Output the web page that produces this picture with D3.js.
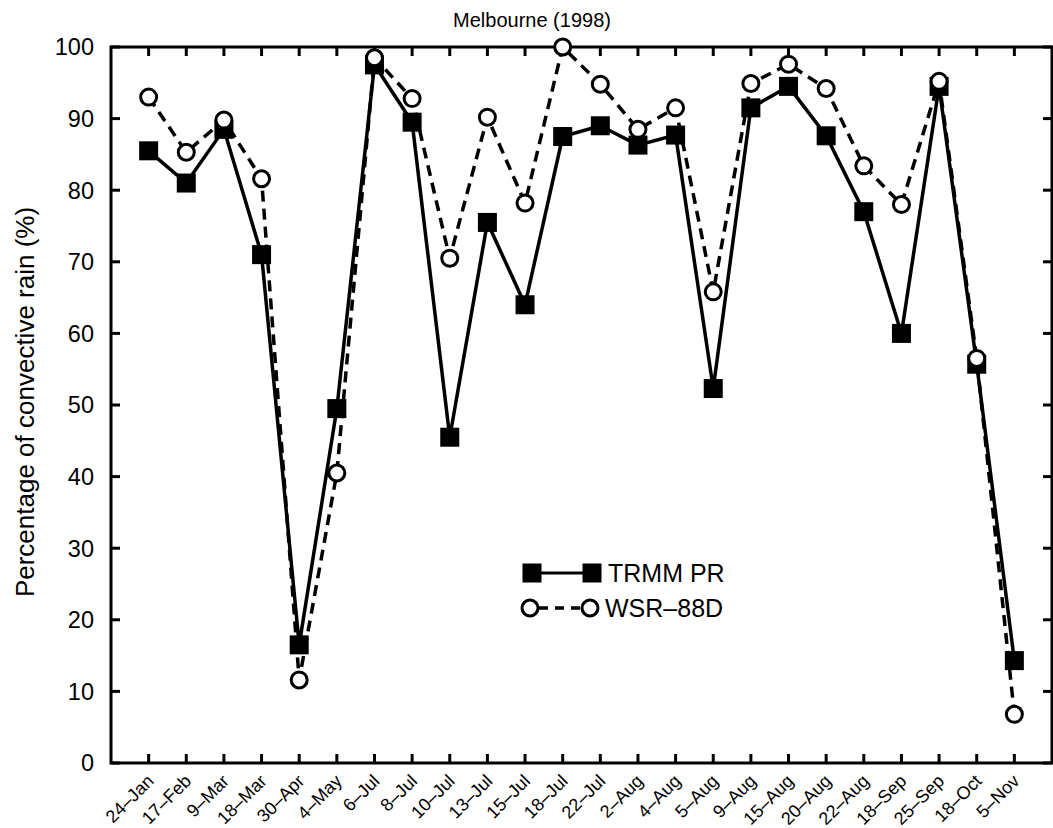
<!DOCTYPE html>
<html>
<head>
<meta charset="utf-8">
<script src="https://cdn.jsdelivr.net/npm/d3@7"></script>
<style>
body { margin: 0; background: #fff; }
svg text { font-family: "Liberation Sans", Arial, sans-serif; fill: #000; }
</style>
</head>
<body>
<svg id="chart" width="1053" height="828"></svg>
<script>
// data
var dates = ["24-Jan","17-Feb","9-Mar","18-Mar","30-Apr","4-May","6-Jul","8-Jul","10-Jul","13-Jul","15-Jul","18-Jul",
	"22-Jul","2-Aug","4-Aug","5-Aug","9-Aug","15-Aug","20-Aug","22-Aug","18-Sep","25-Sep","18-Oct","5-Nov"];
var trmmPR = [85.5,81,88.5,71,16.5,49.5,97.5,89.5,45.5,75.5,64,87.5,89,86.3,87.7,52.3,91.5,94.5,87.6,77,60,94.5,55.7,14.3];
var wsr88d = [93,85.3,89.8,81.6,11.6,40.5,98.5,92.8,70.5,90.2,78.2,100,94.8,88.5,91.5,65.8,94.9,97.6,94.2,83.4,78,95.2,56.5,6.8];
var yTicks = [0,10,20,30,40,50,60,70,80,90,100];

function drawChart() {
	"use strict";
	var svg = d3.select("#chart");
	var pLeft = 111, pRight = 1052, pTop = 47, pBottom = 763;

	// x : positions 1..24, un pas vide de chaque coté
	var x = d3.scaleLinear().domain([0, dates.length + 1]).range([pLeft, pRight]);
	var y = d3.scaleLinear().domain([0, 100]).range([pBottom, pTop]);
	var xIdx = dates.map(function(d, i) { return i + 1; });

	// cadre
	svg.append("rect")
		.attr("x", pLeft).attr("y", pTop)
		.attr("width", pRight - pLeft).attr("height", pBottom - pTop)
		.attr("fill", "none").attr("stroke", "#000").attr("stroke-width", 3);

	// ticks x (bas + haut, vers l'interieur)
	svg.selectAll("line.xtb").data(xIdx).enter().append("line")
		.attr("x1", function(d) { return x(d); }).attr("x2", function(d) { return x(d); })
		.attr("y1", pBottom).attr("y2", pBottom - 9)
		.attr("stroke", "#000").attr("stroke-width", 3);
	svg.selectAll("line.xtt").data(xIdx).enter().append("line")
		.attr("x1", function(d) { return x(d); }).attr("x2", function(d) { return x(d); })
		.attr("y1", pTop).attr("y2", pTop + 9)
		.attr("stroke", "#000").attr("stroke-width", 3);

	// ticks y (gauche + droite)
	svg.selectAll("line.ytl").data(yTicks).enter().append("line")
		.attr("x1", pLeft).attr("x2", pLeft + 9)
		.attr("y1", function(d) { return y(d); }).attr("y2", function(d) { return y(d); })
		.attr("stroke", "#000").attr("stroke-width", 3);
	svg.selectAll("line.ytr").data(yTicks).enter().append("line")
		.attr("x1", pRight).attr("x2", pRight - 9)
		.attr("y1", function(d) { return y(d); }).attr("y2", function(d) { return y(d); })
		.attr("stroke", "#000").attr("stroke-width", 3);

	// labels y
	svg.selectAll("text.ylab").data(yTicks).enter().append("text")
		.attr("x", pLeft - 17)
		.attr("y", function(d) { return y(d); })
		.attr("dy", "0.36em")
		.attr("text-anchor", "end")
		.style("font-size", "23.5px")
		.text(function(d) { return d; });

	// labels x (rotation -45)
	svg.selectAll("text.xlab").data(dates).enter().append("text")
		.attr("transform", function(d, i) { return "translate(" + (x(i + 1) - 3) + "," + (pBottom + 10) + ") rotate(-45)"; })
		.attr("text-anchor", "end")
		.attr("dy", "0.72em")
		.style("font-size", "18px")
		.text(function(d) { return d.replace("-", "\u2013"); });

	// titre + axe
	svg.append("text").attr("x", 532).attr("y", 27).attr("text-anchor", "middle")
		.style("font-size", "20px").text("Melbourne (1998)");
	svg.append("text")
		.attr("transform", "translate(34," + ((pTop + pBottom) / 2 - 3) + ") rotate(-90)")
		.attr("text-anchor", "middle")
		.style("font-size", "26px")
		.text("Percentage of convective rain (%)");

	// lignes
	var line = d3.line().x(function(d, i) { return x(i + 1); }).y(function(d) { return y(d); });
	svg.append("path").datum(wsr88d).attr("d", line)
		.attr("fill", "none").attr("stroke", "#000").attr("stroke-width", 3.5)
		.attr("stroke-dasharray", "11,7");
	svg.append("path").datum(trmmPR).attr("d", line)
		.attr("fill", "none").attr("stroke", "#000").attr("stroke-width", 3.5);

	// marqueurs
	svg.selectAll("rect.sq").data(trmmPR).enter().append("rect")
		.attr("x", function(d, i) { return x(i + 1) - 9.5; })
		.attr("y", function(d) { return y(d) - 9.5; })
		.attr("width", 19).attr("height", 19)
		.attr("fill", "#000");
	svg.selectAll("circle.ci").data(wsr88d).enter().append("circle")
		.attr("cx", function(d, i) { return x(i + 1); })
		.attr("cy", function(d) { return y(d); })
		.attr("r", 8)
		.attr("fill", "#fff").attr("stroke", "#000").attr("stroke-width", 3);

	// legende
	var lg = svg.append("g");
	lg.append("line").attr("x1", 532).attr("x2", 592).attr("y1", 573).attr("y2", 573)
		.attr("stroke", "#000").attr("stroke-width", 3);
	[532, 592].forEach(function(cx) {
		lg.append("rect").attr("x", cx - 9.5).attr("y", 563.5).attr("width", 19).attr("height", 19).attr("fill", "#000");
	});
	lg.append("line").attr("x1", 530).attr("x2", 590).attr("y1", 608).attr("y2", 608)
		.attr("stroke", "#000").attr("stroke-width", 3.5).attr("stroke-dasharray", "9,7").attr("stroke-dashoffset", -9);
	[530, 590].forEach(function(cx) {
		lg.append("circle").attr("cx", cx).attr("cy", 608).attr("r", 8)
			.attr("fill", "#fff").attr("stroke", "#000").attr("stroke-width", 3);
	});
	lg.append("text").attr("x", 608).attr("y", 573).attr("dy", "0.36em").style("font-size", "25px").text("TRMM PR");
	lg.append("text").attr("x", 605).attr("y", 608).attr("dy", "0.36em").style("font-size", "25px").text("WSR\u201388D");
}
drawChart();
</script>
</body>
</html>
